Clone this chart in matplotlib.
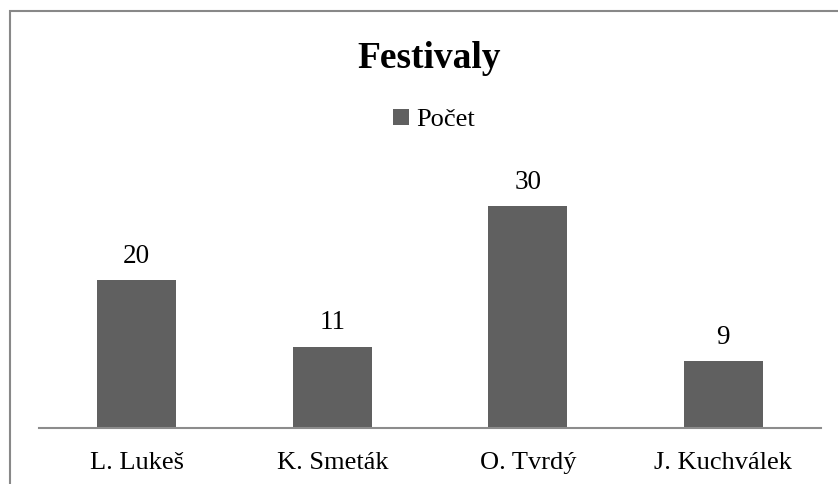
import matplotlib.pyplot as plt
from matplotlib.patches import Rectangle

plt.rcParams['font.family'] = ['Liberation Serif', 'DejaVu Serif']

jmena = ['L. Lukeš', 'K. Smeták', 'O. Tvrdý', 'J. Kuchválek']
pocet = [20, 11, 30, 9]

fig = plt.figure(figsize=(8.38, 4.84), dpi=100)
ax = fig.add_axes([39 / 838, 56 / 484, 782 / 838, 259 / 484])

bary = ax.bar(range(len(jmena)), pocet, width=0.405, color='#606060', label='Počet')
ax.bar_label(bary, padding=8, fontsize=19.5)

ax.set_xlim(-0.5, len(jmena) - 0.5)
ax.set_ylim(0, 35)
ax.set_xticks(range(len(jmena)))
ax.set_xticklabels(jmena, fontsize=19)
ax.tick_params(axis='x', length=0, pad=17)
ax.set_yticks([])
for s in ['top', 'right', 'left']:
    ax.spines[s].set_visible(False)
ax.spines['bottom'].set_color('#8c8c8c')
ax.spines['bottom'].set_linewidth(1.5)

fig.text(429 / 838, 1 - 58 / 484, 'Festivaly', ha='center', va='center',
         fontsize=27, fontweight='bold')
fig.legend(loc='center', bbox_to_anchor=(434 / 838, 1 - 120 / 484), frameon=False,
           fontsize=19, handlelength=0.6, handleheight=0.6, handletextpad=0.3)

# ramecek grafu (vpravo a dole oriznuty)
fig.patches.append(Rectangle((9.5 / 838, -0.1), 1.2, 1 - 11 / 484 + 0.1,
                             transform=fig.transFigure, fill=False,
                             edgecolor='#888888', linewidth=1.5))

fig.savefig('out.png', dpi=100)
